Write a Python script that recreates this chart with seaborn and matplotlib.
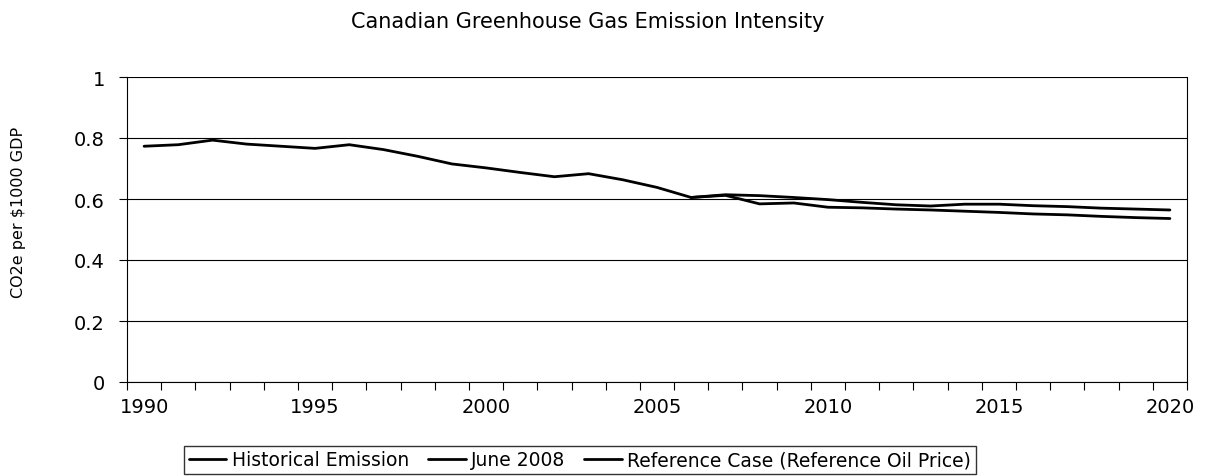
import numpy as np
import pandas as pd
import seaborn as sns
import matplotlib.pyplot as plt
from matplotlib.ticker import FixedLocator

# values (CO2e per $1000 GDP)
hist_years = list(range(1990, 2007))
hist_vals = [0.773, 0.778, 0.793, 0.780, 0.773, 0.766, 0.778, 0.762, 0.740,
             0.715, 0.702, 0.687, 0.673, 0.683, 0.663, 0.638, 0.605]

proj_years = list(range(2006, 2021))
june_2008 = [0.605, 0.612, 0.584, 0.587, 0.573, 0.571, 0.567, 0.564, 0.560,
             0.556, 0.551, 0.548, 0.543, 0.539, 0.536]
ref_case = [0.605, 0.614, 0.611, 0.605, 0.598, 0.589, 0.581, 0.577, 0.583,
            0.583, 0.578, 0.575, 0.570, 0.567, 0.564]

names = ['Historical Emission', 'June 2008', 'Reference Case (Reference Oil Price)']
y_ticks = [0, 0.2, 0.4, 0.6, 0.8, 1]
y_labels = ['0', '0.2', '0.4', '0.6', '0.8', '1']
x_ticks = [1990, 1995, 2000, 2005, 2010, 2015, 2020]

df = pd.concat([
    pd.DataFrame({'year': hist_years, 'value': hist_vals, 'series': names[0]}),
    pd.DataFrame({'year': proj_years, 'value': june_2008, 'series': names[1]}),
    pd.DataFrame({'year': proj_years, 'value': ref_case, 'series': names[2]}),
])

sns.set_style('white', {'text.color': 'black', 'axes.labelcolor': 'black',
                        'xtick.color': 'black', 'ytick.color': 'black'})
plt.rcParams['font.family'] = ['DejaVu Sans']

fig = plt.figure(figsize=(12.17, 4.77), dpi=100)
ax = fig.add_axes([127 / 1217, 1 - 383 / 477, (1187 - 127) / 1217, (383 - 78) / 477])

sns.lineplot(data=df, x='year', y='value', hue='series', hue_order=names,
             palette=['black'] * 3, linewidth=2.0, ax=ax)

ax.set_xlim(1989.5, 2020.5)
ax.set_ylim(0, 1)
ax.set_yticks(y_ticks)
ax.set_yticklabels(y_labels)
ax.set_xticks(x_ticks)
ax.set_xticklabels([str(x) for x in x_ticks])
ax.xaxis.set_minor_locator(FixedLocator(np.arange(1989.5, 2021, 1)))
ax.tick_params(axis='x', which='major', length=0, pad=11, labelsize=14, labelcolor='black')
ax.tick_params(axis='x', which='minor', length=6, width=0.8, color='black', direction='out', bottom=True)
ax.tick_params(axis='y', length=6, width=0.8, color='black', direction='out', left=True, pad=10,
               labelsize=14, labelcolor='black')
ax.grid(axis='y', color='black', linewidth=0.8)
for s in ax.spines.values():
    s.set_color('black')
    s.set_linewidth(0.8)
ax.spines['top'].set_visible(False)

ax.set_xlabel('')
ax.set_ylabel('CO2e per $1000 GDP', fontsize=11.5, color='black')
ax.yaxis.set_label_coords(-0.095, 0.56)

fig.text(588 / 1217, 1 - 22 / 477, 'Canadian Greenhouse Gas Emission Intensity',
         ha='center', va='center', fontsize=15, color='black')

ax.get_legend().remove()
h, l = ax.get_legend_handles_labels()
leg = fig.legend(h, l, loc='center', bbox_to_anchor=(580 / 1217, 1 - 461 / 477), ncol=3,
                 frameon=True, fancybox=False, edgecolor='black', fontsize=13.5,
                 handlelength=2.0, handletextpad=0.3, columnspacing=1.0, borderpad=0.25)
for t in leg.get_texts():
    t.set_color('black')

fig.savefig('out.png', dpi=100)
